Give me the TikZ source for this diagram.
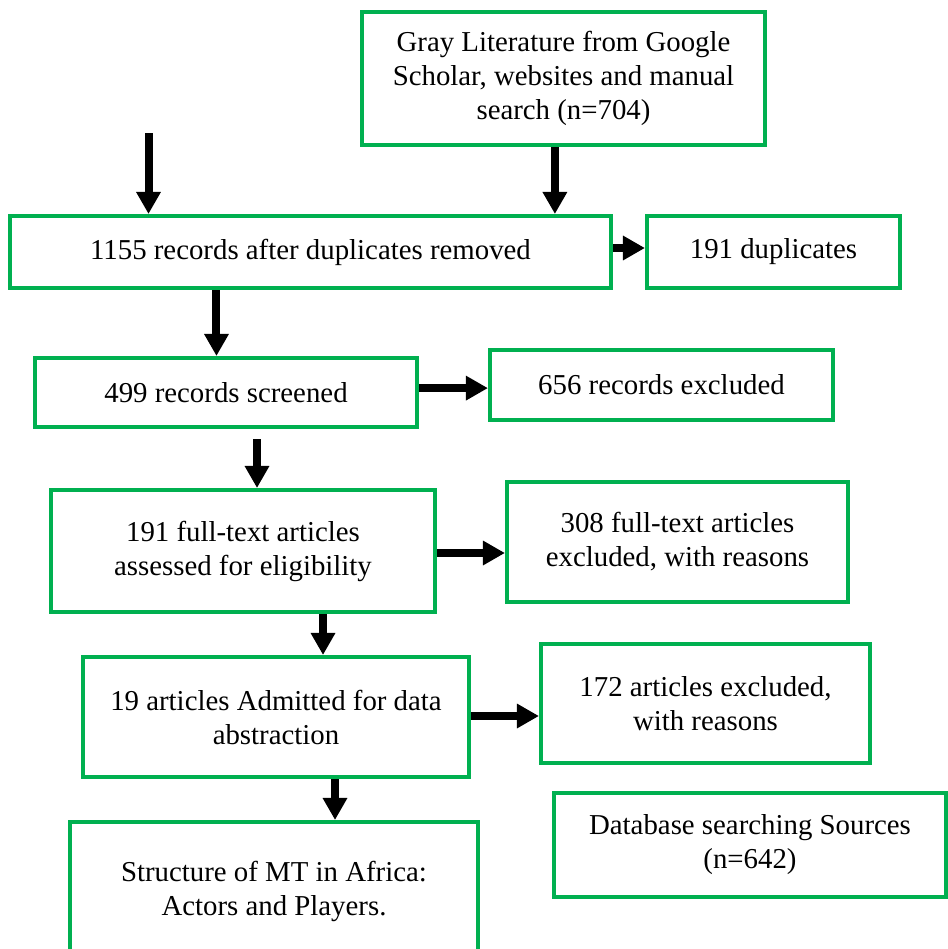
\documentclass[tikz,border=0pt]{standalone}
\usepackage{fontspec}
\setmainfont{Liberation Serif}
\usepackage{xcolor}
\usetikzlibrary{arrows.meta}
\definecolor{BoxGreen}{HTML}{00B050}

\begin{document}
\begin{tikzpicture}[x=0.025cm, y=-0.025cm,
    every node/.style={font=\fontsize{20.5}{24.2}\selectfont},
    box/.style={draw=BoxGreen, line width=0.1cm, align=center, inner sep=0pt},
    arrow/.style={line width=0.2cm, -{Triangle[width=0.58cm, length=0.55cm]}}]
    \useasboundingbox (0,0) rectangle (948,949);

    \node[box, minimum width=10.075cm, minimum height=3.325cm] (gray) at (563.5,78.5) {Gray Literature from Google\\Scholar, websites and manual\\search (n=704)};
    \node[box, minimum width=15.025cm, minimum height=1.8cm] (records) at (310.5,252) {1155 records after duplicates removed};
    \node[box, minimum width=6.325cm, minimum height=1.8cm] (dups) at (773.5,252) {191 duplicates};
    \node[box, minimum width=9.55cm, minimum height=1.725cm] (screened) at (226,392.5) {499 records screened};
    \node[box, minimum width=8.575cm, minimum height=1.75cm] (excl) at (661.5,385) {656 records excluded};
    \node[box, minimum width=9.6cm, minimum height=3.05cm] (fulltext) at (243,551) {191 full-text articles\\assessed for eligibility};
    \node[box, minimum width=8.525cm, minimum height=3.0cm] (fullexcl) at (677.5,542) {308 full-text articles\\excluded, with reasons};
    \node[box, minimum width=9.65cm, minimum height=3.0cm] (admitted) at (276,717) {19 articles Admitted for data\\abstraction};
    \node[box, minimum width=8.225cm, minimum height=2.975cm] (artexcl) at (705.5,703.5) {172 articles excluded,\\with reasons};
    \node[box, minimum width=10.2cm, minimum height=3.45cm] (structure) at (274,891) {Structure of MT in Africa:\\Actors and Players.};
    \node[box, minimum width=9.8cm, minimum height=2.6cm] (database) at (750,845) {Database searching Sources\\(n=642)};

    \coordinate (dbin) at (148.5,133);

    \draw[arrow] (dbin) -- (dbin |- records.north);
    \draw[arrow] ([xshift=-0.215cm]gray.south) -- ([xshift=-0.215cm]gray.south |- records.north);
    \draw[arrow] ([yshift=0.1cm]records.east) -- ([yshift=0.1cm]records.east -| dups.west);
    \draw[arrow] ([xshift=-2.35cm]records.south) -- ([xshift=-2.35cm]records.south |- screened.north);
    \draw[arrow] ([yshift=0.11cm]screened.east) -- ([yshift=0.11cm]screened.east -| excl.west);
    \draw[arrow] ([xshift=0.775cm, yshift=-0.25cm]screened.south) -- ([xshift=0.775cm]screened.south |- fulltext.north);
    \draw[arrow] ([yshift=-0.05cm]fulltext.east) -- ([yshift=-0.05cm]fulltext.east -| fullexcl.west);
    \draw[arrow] ([xshift=2cm]fulltext.south) -- ([xshift=2cm]fulltext.south |- admitted.north);
    \draw[arrow] ([yshift=0.025cm]admitted.east) -- ([yshift=0.025cm]admitted.east -| artexcl.west);
    \draw[arrow] ([xshift=1.475cm]admitted.south) -- ([xshift=1.475cm]admitted.south |- structure.north);
\end{tikzpicture}
\end{document}
